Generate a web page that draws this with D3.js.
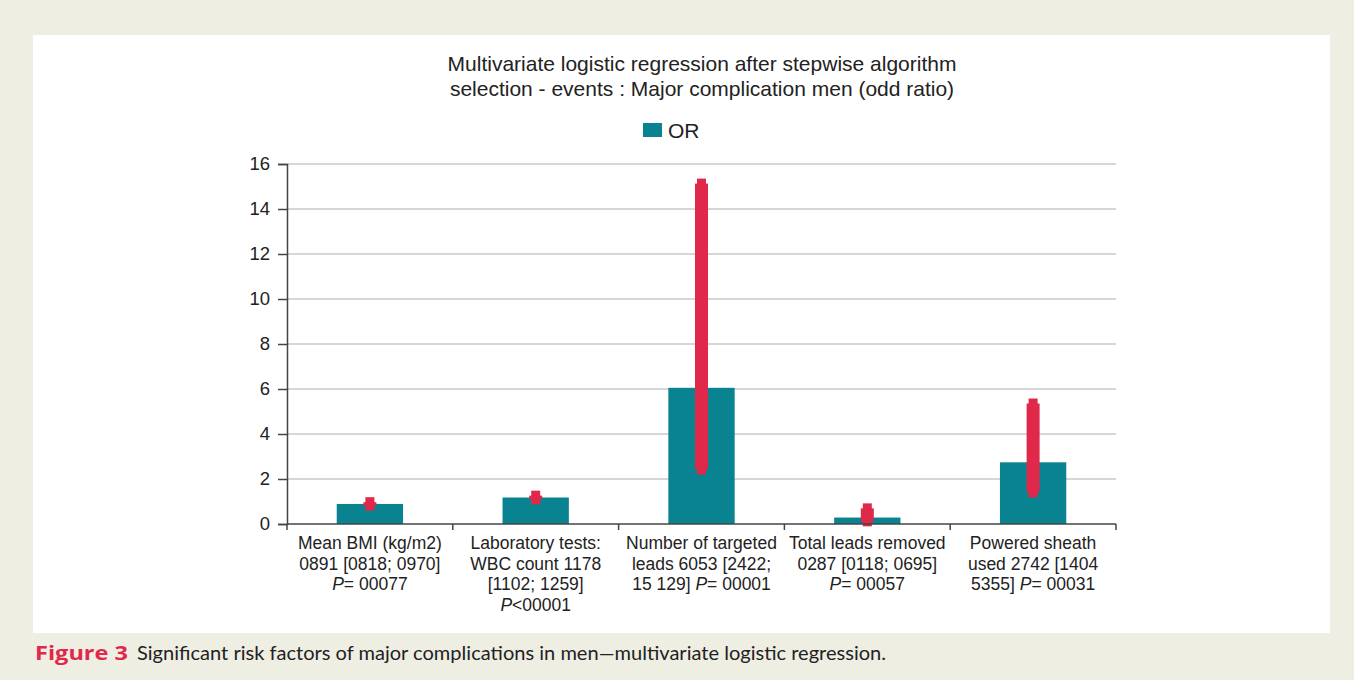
<!DOCTYPE html>
<html>
<head>
<meta charset="utf-8">
<script src="https://cdn.jsdelivr.net/npm/d3@7"></script>
<style>
  body { margin: 0; background: #efeee3; }
  svg { display: block; }
</style>
</head>
<body>
<svg id="chart" width="1354" height="680"></svg>
<script>
// Data
const categories = [
    ["Mean BMI (kg/m2)", "0891 [0818; 0970]", "P|= 00077"],
    ["Laboratory tests:", "WBC count 1178", "[1102; 1259]", "P|<00001"],
    ["Number of targeted", "leads 6053 [2422;", "15 129] |P|= 00001"],
    ["Total leads removed", "0287 [0118; 0695]", "P|= 00057"],
    ["Powered sheath", "used 2742 [1404", "5355] |P|= 00031"]
];
const orValues = [0.891, 1.178, 6.053, 0.287, 2.742];
const ciLow = [0.818, 1.102, 2.422, 0.118, 1.404];
const ciHigh = [0.970, 1.259, 15.129, 0.695, 5.355];
const yTicks = [0, 2, 4, 6, 8, 10, 12, 14, 16];

const BAR = "#0a8391";
const ERR = "#e0284a";
const FONT = "Liberation Sans, Arial, sans-serif";

const svg = d3.select("#chart");

// white panel
svg.append("rect")
    .attr("x", 33).attr("y", 35)
    .attr("width", 1297).attr("height", 598)
    .attr("fill", "#ffffff");

const margin = { left: 287, right: 238, top: 164, bottom: 156 };
const innerW = 1354 - margin.left - margin.right;
const innerH = 680 - margin.top - margin.bottom;

const g = svg.append("g")
    .attr("transform", `translate(${margin.left},${margin.top})`);

const x = d3.scaleBand()
    .domain(d3.range(categories.length))
    .range([0, innerW])
    .paddingInner(0.6)
    .paddingOuter(0.3);

const y = d3.scaleLinear()
    .domain([0, 16])
    .range([innerH, 0]);

// gridlines
g.append("g")
    .selectAll("line")
    .data(yTicks.filter(d => d > 0))
    .enter()
    .append("line")
    .attr("x1", 0).attr("x2", innerW)
    .attr("y1", d => y(d)).attr("y2", d => y(d))
    .attr("stroke", "#c8c8c8")
    .attr("stroke-width", 1.5);

// bars
g.selectAll(".bar")
    .data(orValues)
    .enter()
    .append("rect")
    .attr("x", (d, i) => x(i))
    .attr("y", d => y(d))
    .attr("width", x.bandwidth())
    .attr("height", d => innerH - y(d))
    .attr("fill", BAR);

// error bars: wide body between the CI bounds, narrower stubs past each end
const err = g.selectAll(".err")
    .data(orValues.map((v, i) => ({ i, lo: ciLow[i], hi: ciHigh[i] })))
    .enter()
    .append("g")
    .attr("transform", d => `translate(${x(d.i) + x.bandwidth() / 2},0)`);

err.append("rect")
    .attr("x", -4.5)
    .attr("y", d => y(d.hi) - 5)
    .attr("width", 9)
    .attr("height", d => y(d.lo) - y(d.hi) + 10)
    .attr("fill", ERR);

err.append("rect")
    .attr("x", -6.5)
    .attr("y", d => y(d.hi))
    .attr("width", 13)
    .attr("height", d => Math.max(1, y(d.lo) - y(d.hi)))
    .attr("fill", ERR);

// y axis
const yAxis = g.append("g")
    .call(d3.axisLeft(y).tickValues(yTicks).tickSize(9).tickPadding(8));
yAxis.select(".domain").attr("stroke", "#444").attr("stroke-width", 1.5);
yAxis.selectAll(".tick line").attr("stroke", "#444").attr("stroke-width", 1.5);
yAxis.selectAll("text")
    .attr("fill", "#222")
    .style("font-family", FONT)
    .style("font-size", "18.5px");

// x axis with ticks at category boundaries
const xAxisG = g.append("g")
    .attr("transform", `translate(0,${innerH})`);
xAxisG.append("line")
    .attr("x1", 0).attr("x2", innerW)
    .attr("stroke", "#444").attr("stroke-width", 1.5);
xAxisG.selectAll(".xtick")
    .data(d3.range(categories.length + 1))
    .enter()
    .append("line")
    .attr("x1", d => d * innerW / categories.length)
    .attr("x2", d => d * innerW / categories.length)
    .attr("y1", 0).attr("y2", 6)
    .attr("stroke", "#444").attr("stroke-width", 1.5);

// category labels; "P" is italic
const labels = xAxisG.selectAll(".cat")
    .data(categories)
    .enter()
    .append("text")
    .attr("text-anchor", "middle")
    .attr("fill", "#222")
    .style("font-family", FONT)
    .style("font-size", "17.5px")
    .attr("transform", (d, i) => `translate(${x(i) + x.bandwidth() / 2},25)`);

labels.each(function (lines) {
    const t = d3.select(this);
    lines.forEach((line, li) => {
        const parts = line.split("|");
        parts.forEach((p, pi) => {
            const span = t.append("tspan").text(p);
            if (pi === 0) span.attr("x", 0).attr("dy", li === 0 ? 0 : 20.5);
            if (p === "P") span.style("font-style", "italic");
        });
    });
});

// title
svg.append("text")
    .attr("x", 702).attr("y", 71)
    .attr("text-anchor", "middle")
    .attr("fill", "#222")
    .style("font-family", FONT)
    .style("font-size", "21px")
    .selectAll("tspan")
    .data(["Multivariate logistic regression after stepwise algorithm",
           "selection - events : Major complication men (odd ratio)"])
    .enter()
    .append("tspan")
    .attr("x", 702)
    .attr("dy", (d, i) => i === 0 ? 0 : 25)
    .text(d => d);

// legend
svg.append("rect")
    .attr("x", 643).attr("y", 123)
    .attr("width", 19).attr("height", 14)
    .attr("fill", BAR);
svg.append("text")
    .attr("x", 668).attr("y", 138)
    .attr("fill", "#222")
    .style("font-family", FONT)
    .style("font-size", "21px")
    .text("OR");

// caption
svg.append("text")
    .attr("x", 35).attr("y", 660)
    .attr("textLength", 93)
    .attr("lengthAdjust", "spacingAndGlyphs")
    .attr("fill", ERR)
    .style("font-family", "'Open Sans', sans-serif")
    .style("font-weight", "bold")
    .style("font-size", "20px")
    .text("Figure 3");
svg.append("text")
    .attr("x", 137).attr("y", 660)
    .attr("textLength", 749)
    .attr("lengthAdjust", "spacingAndGlyphs")
    .attr("fill", "#222")
    .style("font-family", "Lato, sans-serif")
    .style("font-size", "19px")
    .text("Significant risk factors of major complications in men\u2014multivariate logistic regression.");
</script>
</body>
</html>
